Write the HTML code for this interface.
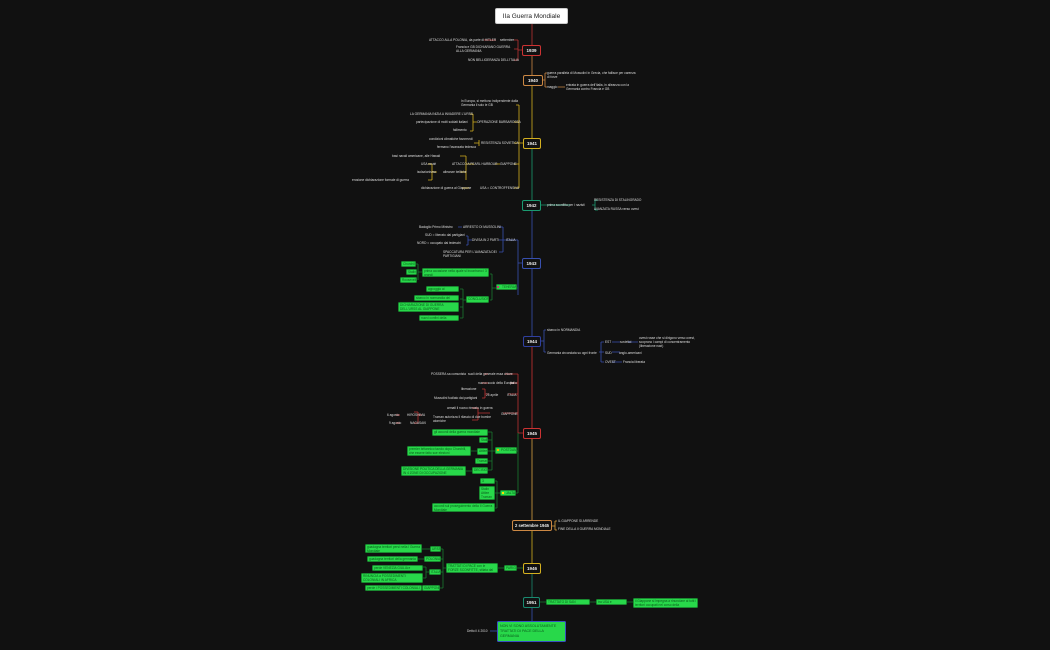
<!DOCTYPE html>
<html><head><meta charset="utf-8"><style>
body{margin:0;width:1050px;height:650px;background:#111;overflow:hidden;position:relative;font-family:"Liberation Sans",sans-serif}
.t{position:absolute;color:#ddd;font-size:3.2px;line-height:4.2px;white-space:nowrap}
.w{white-space:normal}
.y{position:absolute;border:1px solid;border-radius:2px;color:#eee;font-size:4.5px;font-weight:bold;display:flex;align-items:center;justify-content:center;background:#111;box-sizing:border-box;white-space:nowrap}
.g{position:absolute;background:#28d84a;border:1px solid #1a8a30;border-radius:1.5px;color:#0b5a1c;font-size:3.2px;line-height:4px;padding:0 1px;box-sizing:border-box;overflow:hidden}
svg{position:absolute;left:0;top:0}
</style></head><body>
<svg width="1050" height="650" fill="none" stroke-width="0.8">
<path d="M532 24V45" stroke="#b33"/><path d="M532 56V75" stroke="#c84"/><path d="M532 86V138" stroke="#d4b020"/><path d="M532 149V200" stroke="#1a9a70"/><path d="M532 211V336" stroke="#3850b0"/><path d="M532 347V428" stroke="#c33"/><path d="M532 439V520" stroke="#d9a040"/><path d="M532 531V563" stroke="#d4b020"/><path d="M532 574V597" stroke="#1a8a70"/><path d="M532 608V621" stroke="#3850b0"/>
<g stroke="#b33"><path d="M522 50H518M518 40V60M518 40H514M518 49H514M518 60H514M496 40H484"/></g>
<g stroke="#c84"><path d="M543 80H545M545 73V87M545 73H547M545 87H547M558 87H565"/></g>
<g stroke="#d4b020"><path d="M523 143H519M519 105V188M519 105H516M519 122H514M519 143H514M519 164H514M519 188H514M477 122H473M473 114V131M473 114H470M473 131H470M474 143H479M479 140V146M474 164H466M466 156V180M466 156H460M466 172H460M437 172H432M432 164V180M432 164H428M432 180H428M495 164H500M462 188H469"/></g>
<g stroke="#1a9a70"><path d="M541 205H570M592 205H595M595 200V210M595 200H598M595 210H598"/></g>
<g stroke="#3850b0"><path d="M522 263H518M518 240V295M518 240H503M503 227V252M503 227H499M503 240H499M503 252H499M462 227H458M472 240H468M468 236V245M468 236H466M468 245H466"/><path d="M541 341H544M544 330V352M544 330H546M544 352H546M599 352H601M601 342V362M601 342H604M601 352H604M601 362H604M612 342H620M628 342H638M612 352H620M612 362H622"/></g>
<g stroke="#1a7a30"><path d="M518 288H517M496 288H492M492 274V300M492 274H490M492 300H490M422 272H418M418 264V280M418 264H416M418 280H418M466 300H463M463 289V318M463 289H460M463 299H460M463 307H460M463 318H460"/></g>
<g stroke="#b33"><path d="M523 433H518M518 374V433M518 374H505M518 383H510M518 394H508M518 413H503M489 394H485M485 389V398M485 389H482M485 398H482M488 374H484M488 383H482M490 413H478M478 408V420M478 408H472M478 420H472M422 415H418M418 412V423M418 412H414M418 423H414M400 415H396M400 423H396"/></g>
<g stroke="#1a7a30"><path d="M518 433V493M518 451H517M518 493H516M495 451H492M492 432V470M492 432H488M492 440H488M492 451H488M492 461H488M492 470H488M477 451H471M472 471H466M500 493H497M497 481V508M497 481H495M497 493H495M497 508H495"/></g>
<g stroke="#d9a040"><path d="M552 526H555M555 521V530M555 521H557M555 530H557"/></g>
<g stroke="#1a7a30"><path d="M523 568H517M504 568H498M446 568H443M443 549V588M443 549H441M443 559H441M443 572H441M443 588H440M430 549H422M424 559H418M429 572H426M426 567V578M426 567H423M426 578H423M422 588H419"/><path d="M540 602H546M590 602H596M627 602H633"/></g>
<g stroke="#3850b0"><path d="M497 631H490"/></g>
</svg>
<div class="y" style="left:495px;top:8px;width:73px;height:16px;background:#fff;color:#222;border-color:#ccc;font-weight:normal;font-size:6.5px">IIa Guerra Mondiale</div>
<div class="y" style="left:522px;top:45px;width:19px;height:11px;border-color:#c33">1939</div>
<div class="y" style="left:523px;top:75px;width:20px;height:11px;border-color:#c84">1940</div>
<div class="y" style="left:523px;top:138px;width:18px;height:11px;border-color:#d4b020">1941</div>
<div class="y" style="left:522px;top:200px;width:19px;height:11px;border-color:#1a9a70">1942</div>
<div class="y" style="left:522px;top:258px;width:19px;height:11px;border-color:#3850b0">1943</div>
<div class="y" style="left:523px;top:336px;width:18px;height:11px;border-color:#3040a0">1944</div>
<div class="y" style="left:523px;top:428px;width:18px;height:11px;border-color:#c33">1945</div>
<div class="y" style="left:512px;top:520px;width:40px;height:11px;border-color:#c84;font-size:4.2px">2 settembre 1945</div>
<div class="y" style="left:523px;top:563px;width:18px;height:11px;border-color:#d4b020">1946</div>
<div class="y" style="left:523px;top:597px;width:17px;height:11px;border-color:#1a8a70">1951</div>
<div class="g" style="left:497px;top:621px;width:69px;height:21px;border:1px solid #3850c0;font-size:3.6px;line-height:5px;padding:2px">NON VI SONO ASSOLUTAMENTE TRATTATI DI PACE DELLA GERMANIA</div>
<div class="t" style="left:467px;top:629px">Detto il 4 2010</div>

<div class="t" style="left:429px;top:38px">ATTACCO ALLA POLONIA, da parte di HITLER</div><div class="t" style="left:500px;top:38px">settembre</div>
<div class="t w" style="left:456px;top:45px;width:60px">Francia e GB DICHIARANO GUERRA ALLA GERMANIA</div>
<div class="t" style="left:468px;top:58px">NON BELLIGERANZA DELL'ITALIA</div>
<div class="t w" style="left:547px;top:71px;width:90px">guerra parallela di Mussolini in Grecia, che fallisce per carenza di forze</div>
<div class="t" style="left:547px;top:85px">maggio</div><div class="t w" style="left:566px;top:83px;width:70px">entrata in guerra dell'Italia, in alleanza con la Germania contro Francia e GB</div>
<div class="t w" style="left:461px;top:99px;width:60px">In Europa, si mettono indipendente dalla Germania il solo le GB</div>
<div class="t" style="left:410px;top:112px">LA GERMANIA INIZIA A INVADERE L'URSS</div>
<div class="t" style="left:416px;top:120px">partecipazione di molti soldati italiani</div><div class="t" style="left:477px;top:120px">OPERAZIONE BARBAROSSA</div>
<div class="t" style="left:453px;top:128px">fallimento</div>
<div class="t" style="left:429px;top:137px">condizioni climatiche favorevoli</div><div class="t" style="left:481px;top:141px">RESISTENZA SOVIETICA</div>
<div class="t" style="left:437px;top:145px">fermano l'avanzata tedesca</div>
<div class="t" style="left:392px;top:154px">basi navali americane, alle Hawaii</div>
<div class="t" style="left:421px;top:162px">USA neutri</div><div class="t" style="left:452px;top:162px">ATTACCO A PEARL HARBOUR</div><div class="t" style="left:500px;top:162px">GIAPPONE</div>
<div class="t" style="left:417px;top:170px">isolazionismo</div><div class="t" style="left:443px;top:170px">alleanze belliche</div>
<div class="t" style="left:352px;top:178px">erosione dichiarazione formale di guerra</div>
<div class="t" style="left:421px;top:186px">dichiarazione di guerra al Giappone</div><div class="t" style="left:480px;top:186px">USA = CONTROFFENSIVA</div>
<div class="t" style="left:547px;top:203px">prima sconfitta per i nazisti</div>
<div class="t" style="left:594px;top:198px">RESISTENZA DI STALINGRADO</div><div class="t" style="left:594px;top:207px">AVANZATA RUSSA verso ovest</div>
<div class="t" style="left:419px;top:225px">Badoglio Primo Ministro</div><div class="t" style="left:463px;top:225px">ARRESTO DI MUSSOLINI</div>
<div class="t" style="left:425px;top:233px">SUD = liberato dai partigiani</div><div class="t" style="left:472px;top:238px">DIVISA IN 2 PARTI</div><div class="t" style="left:506px;top:238px">ITALIA</div>
<div class="t" style="left:417px;top:241px">NORD = occupato dai tedeschi</div>
<div class="t w" style="left:443px;top:250px;width:58px">SPACCATURA PER L'AVANZATA DEI PARTIGIANI</div>
<div class="g" style="left:401px;top:261px;width:15px;height:6px">Churchill</div>
<div class="g" style="left:406px;top:269px;width:11px;height:6px">Stalin</div>
<div class="g" style="left:400px;top:277px;width:17px;height:6px">Roosevelt</div>
<div class="g" style="left:422px;top:268px;width:67px;height:9px">prima occasione nella quale si incontrano i 3 grandi</div>
<div class="g" style="left:496px;top:284px;width:21px;height:6px;padding-left:5px">TEHERAN</div>
<div style="position:absolute;left:497px;top:286px;width:2px;height:2px;border-radius:1px;background:#f08"></div>
<div class="g" style="left:466px;top:296px;width:23px;height:7px">CONCLUSIONI</div>
<div class="g" style="left:426px;top:286px;width:33px;height:6px">appoggio ai partigiani</div>
<div class="g" style="left:414px;top:295px;width:45px;height:6px">sbarco in normandia del 1944</div>
<div class="g" style="left:398px;top:302px;width:61px;height:10px">DICHIARAZIONE DI GUERRA DELL'URSS AL GIAPPONE</div>
<div class="g" style="left:419px;top:315px;width:40px;height:6px">nuovi confini della Polonia</div>
<div class="t" style="left:547px;top:328px">sbarco in NORMANDIA</div>
<div class="t" style="left:547px;top:351px">Germania circondata su ogni fronte</div>
<div class="t" style="left:605px;top:340px">EST</div><div class="t" style="left:620px;top:340px">sovietici</div><div class="t w" style="left:639px;top:336px;width:62px">ovest rosse che si dirigono verso ovest, scoprono i campi di concentramento (liberazione nazi)</div>
<div class="t" style="left:605px;top:351px">SUD</div><div class="t" style="left:619px;top:351px">anglo-americani</div>
<div class="t" style="left:605px;top:360px">OVEST</div><div class="t" style="left:623px;top:360px">Francia liberata</div>
<div class="t" style="left:431px;top:372px">POSSERA sa comunista</div><div class="t" style="left:468px;top:372px">suoli della generale essa chiare</div>
<div class="t" style="left:478px;top:381px">nuovo suolo della Europa</div><div class="t" style="left:510px;top:381px">Italia</div>
<div class="t" style="left:461px;top:387px">liberazione</div><div class="t" style="left:486px;top:393px">25 aprile</div><div class="t" style="left:507px;top:393px">ITALIA</div>
<div class="t" style="left:434px;top:396px">Mussolini fucilato dai partigiani</div>
<div class="t" style="left:447px;top:406px">armati il nuovo rimasto in guerra</div><div class="t" style="left:501px;top:412px">GIAPPONE</div>
<div class="t w" style="left:433px;top:415px;width:60px">Truman autorizza il rilascio di due bombe atomiche</div>
<div class="t" style="left:387px;top:413px">6 agosto</div><div class="t" style="left:407px;top:413px">HIROSHIMA</div>
<div class="t" style="left:389px;top:421px">9 agosto</div><div class="t" style="left:410px;top:421px">NAGASAKI</div>
<div class="g" style="left:432px;top:429px;width:56px;height:7px">gli accordi della guerra mondiale</div>
<div class="g" style="left:479px;top:437px;width:9px;height:6px">Stalin</div>
<div class="g" style="left:477px;top:448px;width:11px;height:7px">Attlee</div>
<div class="g" style="left:407px;top:446px;width:64px;height:10px">premier britannico tavolo dopo Churchill, che essere fatto sue elezioni</div>
<div class="g" style="left:475px;top:458px;width:13px;height:6px">Truman</div>
<div class="g" style="left:472px;top:467px;width:16px;height:7px">DECISIONI</div>
<div class="g" style="left:401px;top:466px;width:65px;height:10px">DIVISIONE POLITICA DELLA GERMANIA IN 4 ZONE DI OCCUPAZIONE</div>
<div class="g" style="left:495px;top:447px;width:22px;height:7px;padding-left:5px">POSTDAM</div>
<div style="position:absolute;left:497px;top:449px;width:2px;height:2px;background:#fa0"></div>
<div class="g" style="left:480px;top:478px;width:15px;height:6px">3 Ottobre</div>
<div class="g" style="left:479px;top:486px;width:16px;height:14px">Stalin<br>Attlee<br>Truman</div>
<div class="g" style="left:432px;top:503px;width:63px;height:9px">accordi sul proseguimento della II Guerra Mondiale</div>
<div class="g" style="left:500px;top:490px;width:16px;height:6px;padding-left:5px">JALTA</div>
<div style="position:absolute;left:502px;top:492px;width:2px;height:2px;background:#fd0"></div>
<div class="t" style="left:558px;top:519px">IL GIAPPONE SI ARRENDE</div>
<div class="t" style="left:558px;top:527px">FINE DELLA II GUERRA MONDIALE</div>
<div class="g" style="left:430px;top:546px;width:11px;height:6px">URSS</div>
<div class="g" style="left:424px;top:556px;width:17px;height:6px">POLONIA</div>
<div class="g" style="left:429px;top:569px;width:12px;height:6px">ITALIA</div>
<div class="g" style="left:422px;top:585px;width:18px;height:6px">GIAPPONE</div>
<div class="g" style="left:365px;top:544px;width:57px;height:9px">guadagna territori persi nella I Guerra Mondiale</div>
<div class="g" style="left:367px;top:556px;width:51px;height:6px">guadagna territori della germania</div>
<div class="g" style="left:372px;top:565px;width:51px;height:6px">perde VENEZIA GIULIA e TRIESTE</div>
<div class="g" style="left:361px;top:573px;width:62px;height:10px">RINUNCIA a POSSEDIMENTI COLONIALI IN AFRICA</div>
<div class="g" style="left:365px;top:585px;width:57px;height:6px">perde i POSSEDIMENTI COLONIALI</div>
<div class="g" style="left:446px;top:563px;width:52px;height:10px">TRATTATI DI PACE con le FORZE SCONFITTE, stilata dal vincitore</div>
<div class="g" style="left:504px;top:565px;width:13px;height:6px">PARIGI</div>
<div class="g" style="left:546px;top:599px;width:44px;height:6px">TRATTATO DI SAN FRANCISCO</div>
<div class="g" style="left:596px;top:599px;width:31px;height:6px">tra USA e GIAPPONE</div>
<div class="g" style="left:633px;top:598px;width:65px;height:10px">il Giappone si impegna a rinunciare ai tutti i territori occupati nel corso della</div>
</body></html>
